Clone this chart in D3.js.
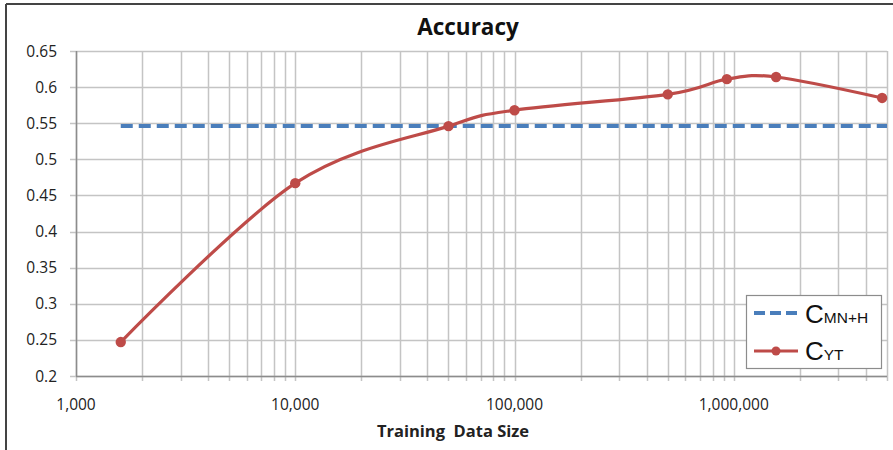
<!DOCTYPE html>
<html>
<head>
<meta charset="utf-8">
<script src="https://cdn.jsdelivr.net/npm/d3@7"></script>
<style>
  body { margin: 0; background: #fff; }
  svg { display: block; }
</style>
</head>
<body>
<div id="chart"></div>
<script>
// data
const trainingSizes = [1600, 10000, 50000, 100000, 500000, 930000, 1560000, 4750000]
const cytAccuracy = [0.247, 0.467, 0.546, 0.568, 0.590, 0.611, 0.614, 0.585]
const baselineAccuracy = 0.546
const baselineRange = [1600, 5000000]
const yTicks = [0.2, 0.25, 0.3, 0.35, 0.4, 0.45, 0.5, 0.55, 0.6, 0.65]
const xMajor = [1000, 10000, 100000, 1000000]
const xMinor = [2, 3, 4, 5, 6, 7, 8, 9]

const width = 893
const height = 450
const margin = { top: 51, right: 6, bottom: 74, left: 76 }
const font = "'Open Sans', Lato, sans-serif"

const svg = d3.select("#chart")
    .append("svg")
    .attr("width", width)
    .attr("height", height)

// outer frame (only top and left show)
svg.append("line")
    .attr("x1", 6).attr("x2", width).attr("y1", 4).attr("y2", 4)
    .attr("stroke", "#444").attr("stroke-width", 2)
svg.append("line")
    .attr("x1", 6).attr("x2", 6).attr("y1", 4).attr("y2", height)
    .attr("stroke", "#444").attr("stroke-width", 2)

const x = d3.scaleLog()
    .domain([1000, 5000000])
    .range([margin.left, width - margin.right])

const y = d3.scaleLinear()
    .domain([0.2, 0.65])
    .range([height - margin.bottom, margin.top])

// all log grid positions
const gridX = []
xMajor.forEach(m => {
  gridX.push(m)
  xMinor.forEach(k => { if (m * k <= 5000000) gridX.push(m * k) })
})

const grid = svg.append("g")

grid.selectAll("line.vx")
    .data(gridX)
    .join("line")
    .attr("class", "vx")
    .attr("x1", d => Math.round(x(d)) + 0.5)
    .attr("x2", d => Math.round(x(d)) + 0.5)
    .attr("y1", y(0.65))
    .attr("y2", y(0.2) + 5)
    .attr("stroke", "#c4c4c4")
    .attr("stroke-width", 1.5)

grid.selectAll("line.hy")
    .data(yTicks)
    .join("line")
    .attr("class", "hy")
    .attr("x1", x(1000) - 6)
    .attr("x2", x(5000000))
    .attr("y1", d => Math.round(y(d)) + 0.5)
    .attr("y2", d => Math.round(y(d)) + 0.5)
    .attr("stroke", "#c4c4c4")
    .attr("stroke-width", 1.5)

// axis lines
svg.append("line")
    .attr("x1", x(1000)).attr("x2", x(5000000))
    .attr("y1", Math.round(y(0.2)) + 0.5).attr("y2", Math.round(y(0.2)) + 0.5)
    .attr("stroke", "#8c8c8c").attr("stroke-width", 1.5)
svg.append("line")
    .attr("x1", Math.round(x(1000)) + 0.5).attr("x2", Math.round(x(1000)) + 0.5)
    .attr("y1", y(0.65)).attr("y2", y(0.2))
    .attr("stroke", "#8c8c8c").attr("stroke-width", 1.5)

// tick labels
svg.append("g")
    .selectAll("text")
    .data(yTicks)
    .join("text")
    .attr("x", x(1000) - 19)
    .attr("y", d => y(d) + 5.5)
    .attr("text-anchor", "end")
    .attr("font-family", font)
    .attr("font-size", 15.5)
    .attr("fill", "#222")
    .text(d => d3.format("")(+d.toFixed(2)))

svg.append("g")
    .selectAll("text")
    .data(xMajor)
    .join("text")
    .attr("x", d => x(d))
    .attr("y", 410)
    .attr("text-anchor", "middle")
    .attr("font-family", font)
    .attr("font-size", 15.5)
    .attr("fill", "#222")
    .text(d => d3.format(",")(d))

// titles
svg.append("text")
    .attr("x", 468)
    .attr("y", 35)
    .attr("text-anchor", "middle")
    .attr("font-family", font)
    .attr("font-weight", "bold")
    .attr("font-size", 22.5)
    .attr("fill", "#111")
    .text("Accuracy")

svg.append("text")
    .attr("x", 453)
    .attr("y", 437)
    .attr("text-anchor", "middle")
    .attr("font-family", font)
    .attr("font-weight", "bold")
    .attr("font-size", 16.5)
    .attr("fill", "#222")
    .attr("xml:space", "preserve")
    .style("white-space", "pre")
    .text("Training  Data Size")

// baseline dashed line
svg.append("line")
    .attr("x1", x(baselineRange[0]))
    .attr("x2", x(baselineRange[1]))
    .attr("y1", y(baselineAccuracy))
    .attr("y2", y(baselineAccuracy))
    .attr("stroke", "#4a7ebb")
    .attr("stroke-width", 4)
    .attr("stroke-dasharray", "12,6")

// CYT curve
const points = trainingSizes.map((s, i) => [s, cytAccuracy[i]])

const line = d3.line()
    .x(d => x(d[0]))
    .y(d => y(d[1]))
    .curve(d3.curveCardinal.tension(0))

svg.append("path")
    .datum(points)
    .attr("d", line)
    .attr("fill", "none")
    .attr("stroke", "#be4b48")
    .attr("stroke-width", 3.2)

svg.append("g")
    .selectAll("circle")
    .data(points)
    .join("circle")
    .attr("cx", d => x(d[0]))
    .attr("cy", d => y(d[1]))
    .attr("r", 5.2)
    .attr("fill", "#be4b48")

// legend
const legend = svg.append("g")

legend.append("rect")
    .attr("x", 746.5).attr("y", 295.5)
    .attr("width", 135).attr("height", 73)
    .attr("fill", "#fff")
    .attr("stroke", "#8c8c8c")
    .attr("stroke-width", 1.2)

legend.append("line")
    .attr("x1", 754).attr("x2", 798).attr("y1", 313).attr("y2", 313)
    .attr("stroke", "#4a7ebb").attr("stroke-width", 4)
    .attr("stroke-dasharray", "11,5")

legend.append("line")
    .attr("x1", 754).attr("x2", 798).attr("y1", 351).attr("y2", 351)
    .attr("stroke", "#be4b48").attr("stroke-width", 3)
legend.append("circle")
    .attr("cx", 776).attr("cy", 351).attr("r", 4.5)
    .attr("fill", "#be4b48")

const legendLabels = [["C", "MN+H", 323], ["C", "YT", 360]]
legendLabels.forEach(([big, small, yy]) => {
  const t = legend.append("text")
      .attr("x", 805).attr("y", yy)
      .attr("font-family", "'Liberation Sans', Arial, sans-serif")
      .attr("fill", "#111")
  t.append("tspan").attr("font-size", 26).text(big)
  t.append("tspan").attr("font-size", 15.5).text(small)
})
</script>
</body>
</html>
